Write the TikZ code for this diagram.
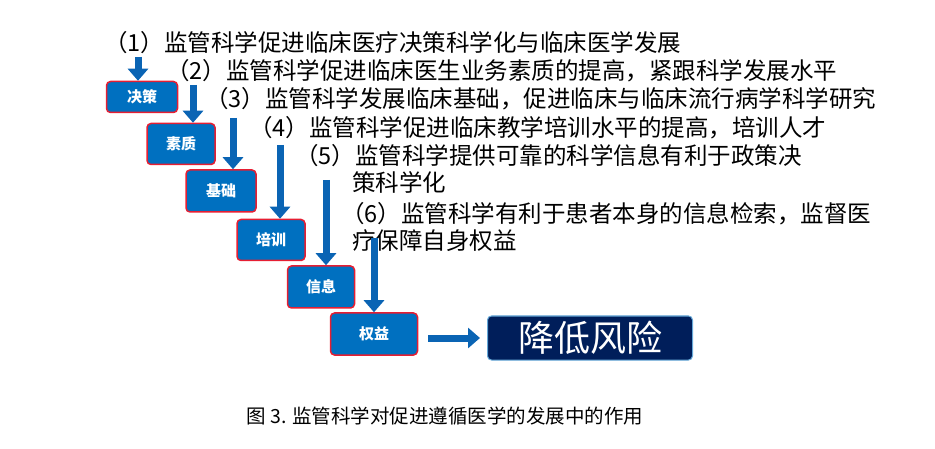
\documentclass[tikz,border=0pt]{standalone}
\usepackage{fontspec}
\setmainfont{Noto Sans CJK SC}
\usetikzlibrary{arrows.meta}
\definecolor{boxblue}{RGB}{0,112,192}
\definecolor{boxred}{RGB}{230,30,50}
\definecolor{navy}{RGB}{0,30,90}
\definecolor{arrowblue}{RGB}{10,100,180}
\tikzset{
  stepbox/.style={draw=boxred, line width=1.5pt, fill=boxblue, rounded corners=4pt,
    text=white, font=\bfseries\fontsize{15}{17}\selectfont, inner sep=0pt},
  goalbox/.style={draw=boxblue!60, line width=1pt, fill=navy, rounded corners=4pt,
    text=white, font=\fontsize{36}{38}\selectfont, minimum width=205pt, minimum height=44pt},
  item/.style={anchor=base west, inner sep=0pt, font=\fontsize{23.5}{27}\selectfont},
  bigarrow/.style={arrowblue, line width=7pt, -{Triangle[width=20pt,length=12pt]}}
}
\begin{document}
\begin{tikzpicture}[x=1pt,y=-1pt]
\useasboundingbox (0,0) rectangle (935,449);

% the six statements
\node[item] (t1) at (104,52) {（1）监管科学促进临床医疗决策科学化与临床医学发展};
\node[item] (t2) at (166,80) {（2）监管科学促进临床医生业务素质的提高，紧跟科学发展水平};
\node[item] (t3) at (205,108) {（3）监管科学发展临床基础，促进临床与临床流行病学科学研究};
\node[item] (t4) at (249,137) {（4）监管科学促进临床教学培训水平的提高，培训人才};
\node[item] (t5) at (295,165) {（5）监管科学提供可靠的科学信息有利于政策决};
\node[item] (t5b) at (352,192) {策科学化};
\node[item] (t6) at (341,223) {（6）监管科学有利于患者本身的信息检索，监督医};
\node[item] (t6b) at (352,250) {疗保障自身权益};

% the steps
\node[stepbox, minimum width=71pt, minimum height=31pt] (s1) at (142,97) {决策};
\node[stepbox, minimum width=68pt, minimum height=41pt] (s2) at (181,144) {素质};
\node[stepbox, minimum width=70pt, minimum height=42pt] (s3) at (221,191) {基础};
\node[stepbox, minimum width=68pt, minimum height=41pt] (s4) at (271,240) {培训};
\node[stepbox, minimum width=67pt, minimum height=42pt] (s5) at (321,287) {信息};
\node[stepbox, minimum width=87pt, minimum height=42pt] (s6) at (374,334) {权益};
\node[goalbox] (goal) at (590,338) {降低风险};

% arrows
\coordinate (a1) at (138,57);
\coordinate (a2) at (193,85);
\coordinate (a3) at (233,118);
\coordinate (a4) at (280,145);
\coordinate (a5) at (326,180);
\coordinate (a6) at (374,238);
\draw[bigarrow] (a1) -- (s1.north -| a1);
\draw[bigarrow] (a2) -- (s2.north -| a2);
\draw[bigarrow] (a3) -- (s3.north -| a3);
\draw[bigarrow] (a4) -- (s4.north -| a4);
\draw[bigarrow] (a5) -- (s5.north -| a5);
\draw[bigarrow] (a6) -- (s6.north);
\draw[bigarrow] ([xshift=10pt]s6.east |- goal) -- ([xshift=-7pt]goal.west);

% caption
\node[font=\fontsize{19.5}{22}\selectfont] (cap) at (445,416) {图 3. 监管科学对促进遵循医学的发展中的作用};
\end{tikzpicture}
\end{document}
